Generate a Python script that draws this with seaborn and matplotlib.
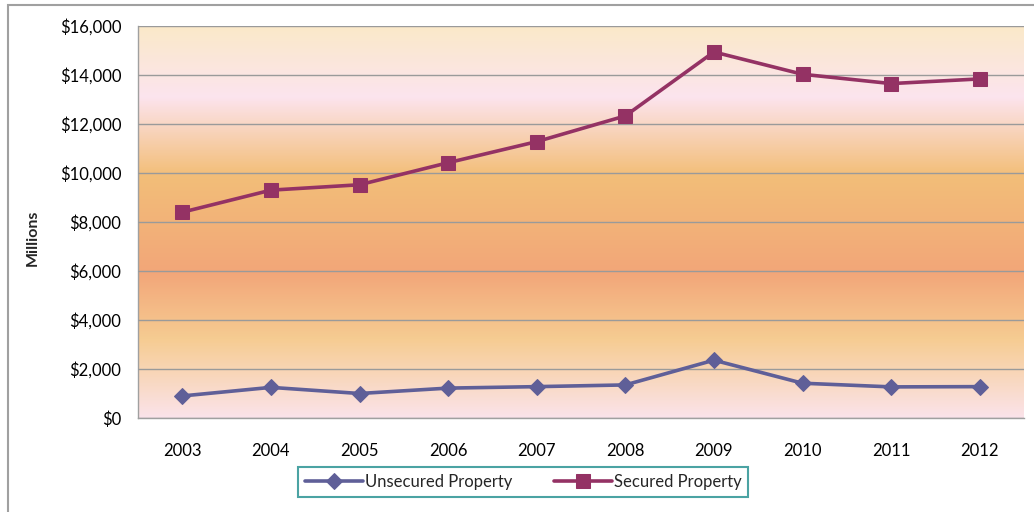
import numpy as np
import pandas as pd
import matplotlib
matplotlib.use("Agg")
import matplotlib.pyplot as plt
from matplotlib.colors import LinearSegmentedColormap
from matplotlib.patches import Rectangle
from matplotlib.ticker import FuncFormatter
import seaborn as sns

years = ["2003", "2004", "2005", "2006", "2007", "2008", "2009", "2010", "2011", "2012"]
unsecured = [900, 1250, 1000, 1220, 1280, 1350, 2360, 1420, 1270, 1280]
secured = [8400, 9300, 9520, 10420, 11280, 12330, 14940, 14030, 13650, 13840]
series_names = ["Unsecured Property", "Secured Property"]
series_colors = ["#5F5F98", "#943264"]

sns.set_theme(style="white")
plt.rcParams["font.family"] = ["Lato", "DejaVu Sans"]

df = pd.DataFrame({
    "Year": years * 2,
    "Value": unsecured + secured,
    "Series": [series_names[0]] * len(years) + [series_names[1]] * len(years),
})

fig = plt.figure(figsize=(10.34, 5.12), dpi=100)
ax = fig.add_axes([138 / 1034, 1 - 418 / 512, (1024 - 138) / 1034, (418 - 26) / 512])

# gradient background
stops = [(0.0, "#FBE3EA"), (0.2, "#F6CC92"), (0.37, "#F2A679"), (0.62, "#F3BE78"),
         (0.82, "#FCE4EE"), (1.0, "#FAE9C9")]
cmap = LinearSegmentedColormap.from_list("bg", stops)
grad = np.linspace(0, 1, 512).reshape(-1, 1)
ax.imshow(grad, cmap=cmap, origin="lower", aspect="auto",
          extent=(-0.5, 9.5, 0, 16000), zorder=0)

markers = ["D", "s"]
msizes = [8, 10.5]
for name, col, mk, ms in zip(series_names, series_colors, markers, msizes):
    sub = df[df["Series"] == name]
    sns.lineplot(data=sub, x="Year", y="Value", ax=ax, color=col, lw=2.6,
                 marker=mk, markersize=ms, markeredgecolor=col, label=name,
                 zorder=3, sort=False)

ax.set_xlim(-0.5, 9.5)
ax.set_ylim(0, 16000)
ax.set_yticks(np.arange(0, 16001, 2000))
ax.yaxis.set_major_formatter(FuncFormatter(lambda v, p: f"${v:,.0f}"))
ax.grid(axis="y", color="#9A9A9A", lw=1, zorder=1)
ax.set_axisbelow(False)
for s in ["top", "right"]:
    ax.spines[s].set_visible(False)
for s in ["left", "bottom"]:
    ax.spines[s].set_color("#A0A0A0")
    ax.spines[s].set_linewidth(1)
ax.tick_params(axis="both", labelsize=12, colors="black", length=0)
ax.tick_params(axis="y", pad=12)
ax.tick_params(axis="x", pad=18)
ax.set_xlabel("")
ax.set_ylabel("")
fig.text(33 / 1034, 1 - 238 / 512, "Millions", rotation=90, fontsize=11.5,
         fontweight="bold", ha="center", va="center")

handles, labels = ax.get_legend_handles_labels()
ax.get_legend().remove()
leg = fig.legend(handles, labels, loc="center", bbox_to_anchor=(523 / 1034, 1 - 482 / 512),
                 ncol=2, fontsize=12, frameon=True, fancybox=False, handlelength=3.5,
                 columnspacing=2.5, borderpad=0.4, handletextpad=0.1)
leg.get_frame().set_edgecolor("#1E8C8C")
leg.get_frame().set_linewidth(1.5)

# outer border
fig.patches.append(Rectangle((8 / 1034, -0.1), 1.2, 1 - 5 / 512 + 0.1,
                             transform=fig.transFigure, fill=False,
                             edgecolor="#A0A0A0", lw=1.5, zorder=0))

fig.savefig("out.png", dpi=100)
